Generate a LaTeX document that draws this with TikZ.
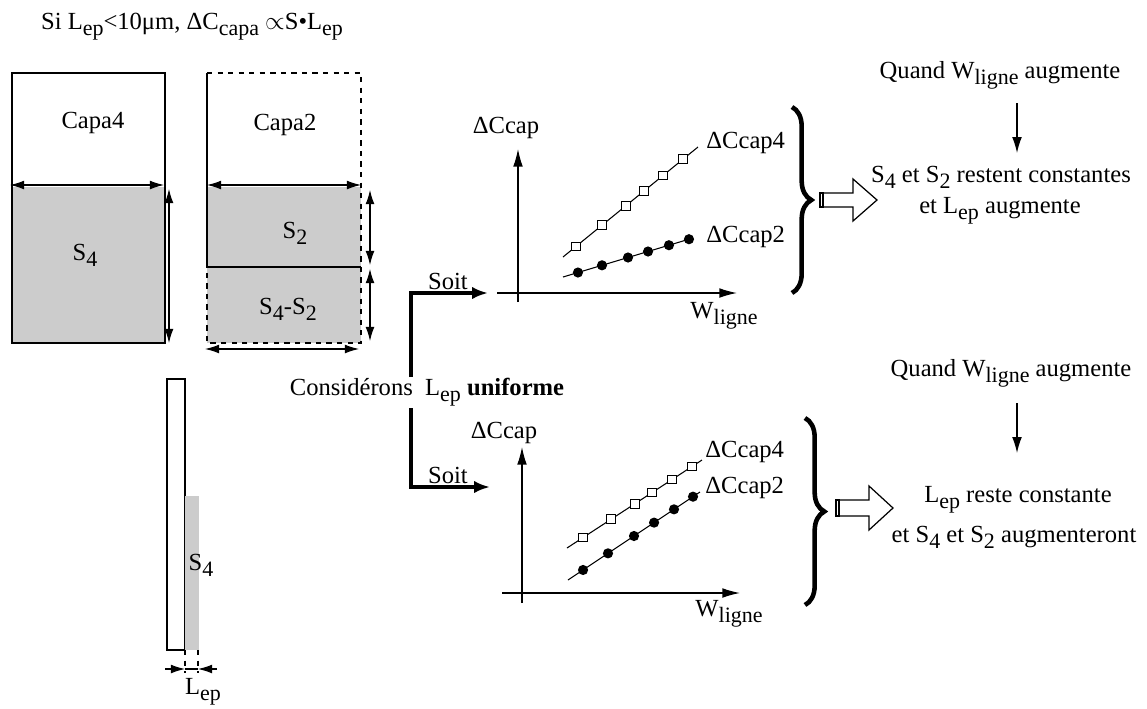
\documentclass[tikz,border=0pt]{standalone}
\usepackage{fontspec}
\setmainfont{Liberation Serif}
\usetikzlibrary{arrows.meta,calc,decorations.pathreplacing}
\newcommand{\lowtxt}[1]{\raisebox{-0.55ex}{\fontsize{12.5}{13}\selectfont #1}}

\begin{document}
\begin{tikzpicture}[x=0.02cm, y=-0.02cm,
    font=\fontsize{14}{16}\selectfont,
    box/.style={draw, line width=0.8pt},
    dim/.style={{Latex[length=8pt,width=5pt]}-{Latex[length=8pt,width=5pt]}, line width=0.6pt},
    axis/.style={-{Latex[length=10pt,width=5.5pt]}, line width=0.7pt},
    thinarr/.style={-{Latex[length=9pt,width=5.5pt]}, line width=0.7pt},
    soit/.style={-{Latex[length=9pt,width=7pt]}, line width=2.2pt},
    brace/.style={decorate, decoration={brace, amplitude=11pt}, line width=2.6pt},
    sq/.style={draw, fill=white, minimum size=5pt, inner sep=0pt, line width=0.6pt},
    dot/.style={circle, fill=black, minimum size=5.8pt, inner sep=0pt}]
  \useasboundingbox (0,0) rectangle (1147,708);

  % Titre
  \node (titre) at (192,27) {Si L\lowtxt{ep}<10μm, ΔC\lowtxt{capa} $\propto$S•L\lowtxt{ep}};

  % Capa4
  \fill[gray!40] (12,187) rectangle (165,343);
  \draw[box] (12,73) rectangle (165,343);
  \node (capa4) at (93,123) {Capa4};
  \node (s4a) at (85,255) {S\lowtxt{4}};
  \draw[dim] (10,185) -- (164,185);
  \draw[dim] (169,189) -- (169,343);

  % Capa2
  \fill[gray!40] (207,187) rectangle (361,343);
  \draw[box] (207,267) -- (207,73);
  \draw[box] (207,267) -- (361,267);
  \draw[box, dashed] (207,73) -- (361,73) -- (361,343) -- (207,343) -- (207,267);
  \node (capa2) at (285,125) {Capa2};
  \node (s2a) at (295,233) {S\lowtxt{2}};
  \node (s4s2) at (288,309) {S\lowtxt{4}-S\lowtxt{2}};
  \draw[dim] (207,185) -- (361,185);
  \draw[dim] (370,190) -- (370,265);
  \draw[dim] (370,269) -- (370,341);
  \draw[dim] (205,349) -- (359,349);

  % Vue en coupe
  \draw[box] (167,379) rectangle (185,650);
  \fill[gray!40] (185,496) rectangle (199,650);
  \node (s4b) at (201,565) {S\lowtxt{4}};
  \draw[dashed, line width=0.6pt] (185,650) -- (185,673);
  \draw[dashed, line width=0.6pt] (198,650) -- (198,673);
  \draw[-{Latex[length=8pt,width=5pt]}, line width=0.6pt] (165,669) -- (185,669);
  \draw[-{Latex[length=8pt,width=5pt]}, line width=0.6pt] (217,669) -- (198,669);
  \draw[line width=0.6pt] (185,669) -- (198,669);
  \node (lep) at (203,692) {L\lowtxt{ep}};

  % Considerons
  \node (cons) at (427,392) {Considérons\ \ L\lowtxt{ep} \textbf{uniforme}};
  \coordinate (s1a) at (411,377);
  \coordinate (s1b) at (488,293);
  \coordinate (s2a) at (411,408);
  \coordinate (s2b) at (490,487);
  \draw[soit] (s1a) |- (s1b);
  \draw[soit] (s2a) |- (s2b);
  \node (soit1) at (448,281) {Soit};
  \node (soit2) at (448,475) {Soit};

  % Graphe du haut
  \draw[axis] (518,302) -- (518,149);
  \draw[axis] (497,293) -- (737,293);
  \node (dc1) at (506,128) {ΔCcap};
  \node (w1) at (724,316) {W\lowtxt{ligne}};
  \coordinate (a4s) at (563,257);
  \coordinate (a4e) at (698,147);
  \coordinate (a2s) at (563,277);
  \coordinate (a2e) at (693,238);
  \draw[line width=0.6pt] (a4s) -- (a4e);
  \draw[line width=0.6pt] (a2s) -- (a2e);
  \foreach \t in {0.096,0.289,0.467,0.600,0.741,0.889}
    \node[sq] at ($(a4s)!\t!(a4e)$) {};
  \foreach \t in {0.115,0.30,0.50,0.654,0.815,0.969}
    \node[dot] at ($(a2s)!\t!(a2e)$) {};
  \node[anchor=west, inner sep=0pt] (c4a) at (706,143) {ΔCcap4};
  \node[anchor=west, inner sep=0pt] (c2a) at (706,237) {ΔCcap2};

  % Graphe du bas
  \draw[axis] (522,603) -- (522,447);
  \draw[axis] (502,593) -- (740,593);
  \node (dc2) at (504,433) {ΔCcap};
  \node (w2) at (729,614) {W\lowtxt{ligne}};
  \coordinate (b4s) at (567,548);
  \coordinate (b4e) at (702,460);
  \coordinate (b2s) at (568,580);
  \coordinate (b2e) at (700,492);
  \draw[line width=0.6pt] (b4s) -- (b4e);
  \draw[line width=0.6pt] (b2s) -- (b2e);
  \foreach \t in {0.119,0.326,0.504,0.630,0.778,0.926}
    \node[sq] at ($(b4s)!\t!(b4e)$) {};
  \foreach \t in {0.114,0.303,0.5,0.652,0.803,0.947}
    \node[dot] at ($(b2s)!\t!(b2e)$) {};
  \node[anchor=west, inner sep=0pt] (c4b) at (705,452) {ΔCcap4};
  \node[anchor=west, inner sep=0pt] (c2b) at (705,488) {ΔCcap2};

  % Accolades et fleches creuses
  \draw[brace] (792,107) -- (792,293);
  \draw[brace] (805,418) -- (805,605);
  \coordinate (h1) at (823,200);
  \draw[line width=0.7pt] (h1) ++(0,-7) -- ++(30,0) -- ++(0,-14) -- ++(24,21) -- ++(-24,21) -- ++(0,-14) -- ++(-30,0) -- cycle;
  \draw[line width=0.6pt] (h1) ++(-3,-7) rectangle ++(3,14);
  \coordinate (h2) at (839,508);
  \draw[line width=0.7pt] (h2) ++(0,-8) -- ++(30,0) -- ++(0,-14) -- ++(24,22) -- ++(-24,22) -- ++(0,-14) -- ++(-30,0) -- cycle;
  \draw[line width=0.6pt] (h2) ++(-3,-8) rectangle ++(3,16);

  % Conclusions
  \node (quand1) at (1000,75) {Quand W\lowtxt{ligne} augmente};
  \coordinate (q1a) at (1017,103);
  \coordinate (q1b) at (1017,153);
  \draw[thinarr] (q1a) -- (q1b);
  \node (res1a) at (1001,177) {S\lowtxt{4} et S\lowtxt{2} restent constantes};
  \node (res1b) at (1000,211) {et L\lowtxt{ep} augmente};

  \node (quand2) at (1011,373) {Quand W\lowtxt{ligne} augmente};
  \coordinate (q2a) at (1017,403);
  \coordinate (q2b) at (1017,453);
  \draw[thinarr] (q2a) -- (q2b);
  \node (res2a) at (1018,500) {L\lowtxt{ep} reste constante};
  \node (res2b) at (1014,537) {et S\lowtxt{4} et S\lowtxt{2} augmenteront};
\end{tikzpicture}
\end{document}
